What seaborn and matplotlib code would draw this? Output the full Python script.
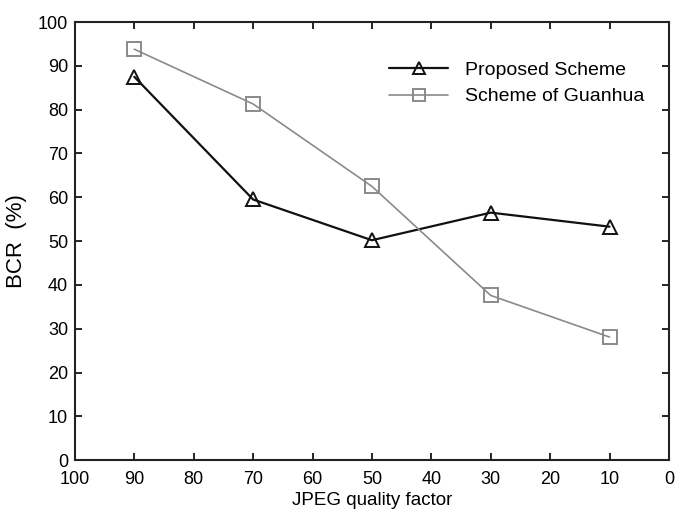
import matplotlib
matplotlib.use("Agg")
import matplotlib.pyplot as plt
import seaborn as sns
import pandas as pd

quality = [90, 70, 50, 30, 10]
proposed = [87.5, 59.5, 50.2, 56.5, 53.3]
guanhua = [93.8, 81.3, 62.5, 37.6, 28.1]
series_names = ["Proposed Scheme", "Scheme of Guanhua"]
xticks = [100, 90, 80, 70, 60, 50, 40, 30, 20, 10, 0]
yticks = [0, 10, 20, 30, 40, 50, 60, 70, 80, 90, 100]

sns.set_style("ticks")
plt.rcParams['font.family'] = ['Liberation Sans', 'DejaVu Sans']
plt.rcParams['text.color'] = 'black'
plt.rcParams['axes.labelcolor'] = 'black'
plt.rcParams['xtick.color'] = 'black'
plt.rcParams['ytick.color'] = 'black'

df_p = pd.DataFrame({"q": quality, "bcr": proposed})
df_g = pd.DataFrame({"q": quality, "bcr": guanhua})

fig = plt.figure(figsize=(6.75, 5.13), dpi=100)
ax = fig.add_axes([0.111, 0.103, 0.880, 0.854])

sns.lineplot(data=df_p, x="q", y="bcr", color="#111111", marker="^",
             markersize=10, markerfacecolor="none", markeredgecolor="#111111",
             markeredgewidth=1.4, linewidth=1.6, sort=False, ax=ax,
             label=series_names[0])
sns.lineplot(data=df_g, x="q", y="bcr", color="#8a8a8a", marker="s",
             markersize=10, markerfacecolor="none", markeredgecolor="#8a8a8a",
             markeredgewidth=1.4, linewidth=1.2, sort=False, ax=ax,
             label=series_names[1])

ax.set_xlim(100, 0)
ax.set_ylim(0, 100)
ax.set_xticks(xticks)
ax.set_yticks(yticks)
ax.tick_params(direction="in", top=True, right=True, length=5, width=1.2,
               labelsize=13)
ax.tick_params(axis="x", pad=8)
ax.tick_params(axis="y", pad=5)
for s in ax.spines.values():
    s.set_linewidth(1.5)
    s.set_color("#222222")
ax.set_xlabel("JPEG quality factor", fontsize=13.5, labelpad=3)
ax.set_ylabel("BCR  (%)", fontsize=16, labelpad=8)

leg = ax.legend(frameon=False, loc="upper left", bbox_to_anchor=(0.50, 0.95),
                fontsize=14, handlelength=3.0, handletextpad=0.9,
                labelspacing=0.45)
for h in leg.legend_handles:
    h.set_markersize(8)

fig.savefig("out.png", dpi=100)
